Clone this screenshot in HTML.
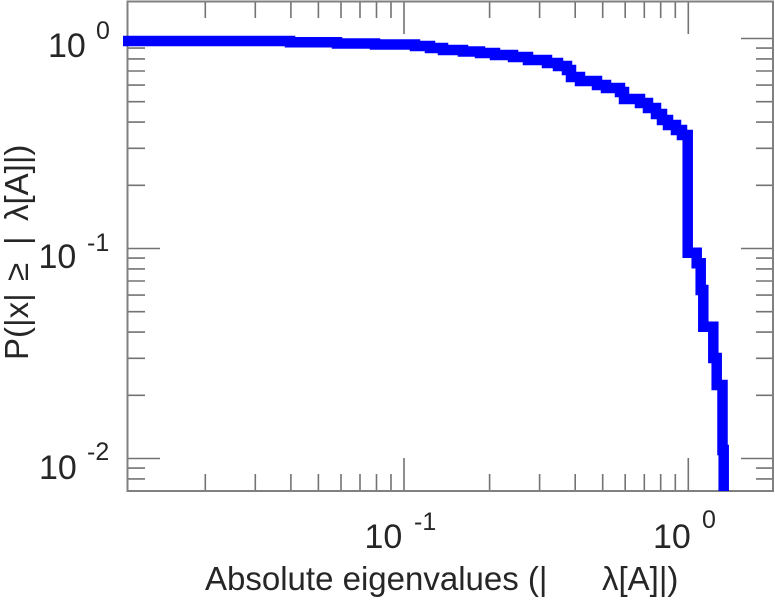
<!DOCTYPE html>
<html>
<head>
<meta charset="utf-8">
<style>
  html, body { margin: 0; padding: 0; background: #ffffff; }
  svg { display: block; }
  text { font-family: "Liberation Sans", "DejaVu Sans", sans-serif; fill: #262626; }
</style>
</head>
<body>
<svg width="775" height="600" viewBox="0 0 775 600" xmlns="http://www.w3.org/2000/svg">
  <rect x="0" y="0" width="775" height="600" fill="#ffffff"/>

  <!-- ticks -->
  <g stroke="#737373" stroke-width="1.6" fill="none">
    <path d="M205.3 491 V474 M255.3 491 V474 M290.9 491 V474 M318.4 491 V474 M341 491 V474 M360 491 V474 M376.5 491 V474 M391 491 V474
             M489.6 491 V474 M539.6 491 V474 M575.2 491 V474 M602.7 491 V474 M625.2 491 V474 M644.3 491 V474 M660.7 491 V474 M675.3 491 V474"/>
    <path d="M404 491 V458 M688.3 491 V458"/>
    <path d="M205.3 1.5 V18 M255.3 1.5 V18 M290.9 1.5 V18 M318.4 1.5 V18 M341 1.5 V18 M360 1.5 V18 M376.5 1.5 V18 M391 1.5 V18
             M489.6 1.5 V18 M539.6 1.5 V18 M575.2 1.5 V18 M602.7 1.5 V18 M625.2 1.5 V18 M644.3 1.5 V18 M660.7 1.5 V18 M675.3 1.5 V18"/>
    <path d="M404 1.5 V34 M688.3 1.5 V34"/>
    <path d="M127.5 48.1 H145 M127.5 58.9 H145 M127.5 71 H145 M127.5 85.1 H145 M127.5 101.7 H145 M127.5 122.1 H145 M127.5 148.3 H145 M127.5 185.3 H145
             M127.5 258.1 H145 M127.5 268.9 H145 M127.5 281 H145 M127.5 295.1 H145 M127.5 311.7 H145 M127.5 332.1 H145 M127.5 358.3 H145 M127.5 395.3 H145
             M127.5 468.1 H145 M127.5 478.9 H145"/>
    <path d="M127.5 38.5 H160 M127.5 248.5 H160 M127.5 458.5 H160"/>
    <path d="M773 48.1 H756 M773 58.9 H756 M773 71 H756 M773 85.1 H756 M773 101.7 H756 M773 122.1 H756 M773 148.3 H756 M773 185.3 H756
             M773 258.1 H756 M773 268.9 H756 M773 281 H756 M773 295.1 H756 M773 311.7 H756 M773 332.1 H756 M773 358.3 H756 M773 395.3 H756
             M773 468.1 H756 M773 478.9 H756"/>
    <path d="M773 38.5 H741 M773 248.5 H741 M773 458.5 H741"/>
  </g>

  <!-- frame -->
  <rect x="127.5" y="1.5" width="645.5" height="489.5" fill="none" stroke="#808080" stroke-width="2"/>

  <!-- data curve -->
  <path d="M 123 41 H 290 V 42.3 H 337 V 43.5 H 375 V 44.5 H 415 V 46 H 430 V 48 H 443 V 50 H 463 V 51.5 H 480
           V 53 H 495 V 55 H 513 V 57 H 528 V 60 H 547 V 63 H 558 V 66 H 567 V 70 H 571 V 77 H 580 V 81 H 597 V 85 H 606 V 88 H 620 V 92
           H 624 V 99 H 640 V 103 H 648 V 108 H 656 V 114 H 662 V 120 H 668 V 125 H 676 V 130 H 682 V 135 H 687.7
           V 252.7 H 696.7 V 263.3 H 700.7 V 290 H 703.3 V 326.7 H 713.3 V 358 H 716.7 V 385 H 722.5 V 450 H 723.7 V 491"
        fill="none" stroke="#0000ff" stroke-width="10.5" stroke-linejoin="miter" stroke-linecap="butt"/>

  <!-- y tick labels -->
  <text x="48" y="57" font-size="34">10</text>
  <text x="96" y="39" font-size="25">0</text>

  <text x="38.5" y="268" font-size="34">10</text>
  <text x="87" y="251" font-size="25">-1</text>

  <text x="39" y="479" font-size="34">10</text>
  <text x="87" y="460" font-size="25">-2</text>

  <!-- x tick labels -->
  <text x="364.5" y="548" font-size="34">10</text>
  <text x="414" y="530" font-size="25">-1</text>

  <text x="653" y="548" font-size="34">10</text>
  <text x="702" y="528" font-size="25">0</text>

  <!-- x axis label -->
  <text x="205" y="590" font-size="33">Absolute eigenvalues (|</text>
  <text x="602" y="590" font-size="33">λ[A]|)</text>

  <!-- y axis label (rotated) -->
  <g transform="translate(28,0) rotate(-90)">
    <text x="-360" y="0" font-size="33">P(|x|</text>
    <text x="-281" y="0" font-size="33">≥</text>
    <text x="-245" y="0" font-size="33">|</text>
    <text x="-221" y="0" font-size="33">λ[A]|)</text>
  </g>
</svg>
</body>
</html>
